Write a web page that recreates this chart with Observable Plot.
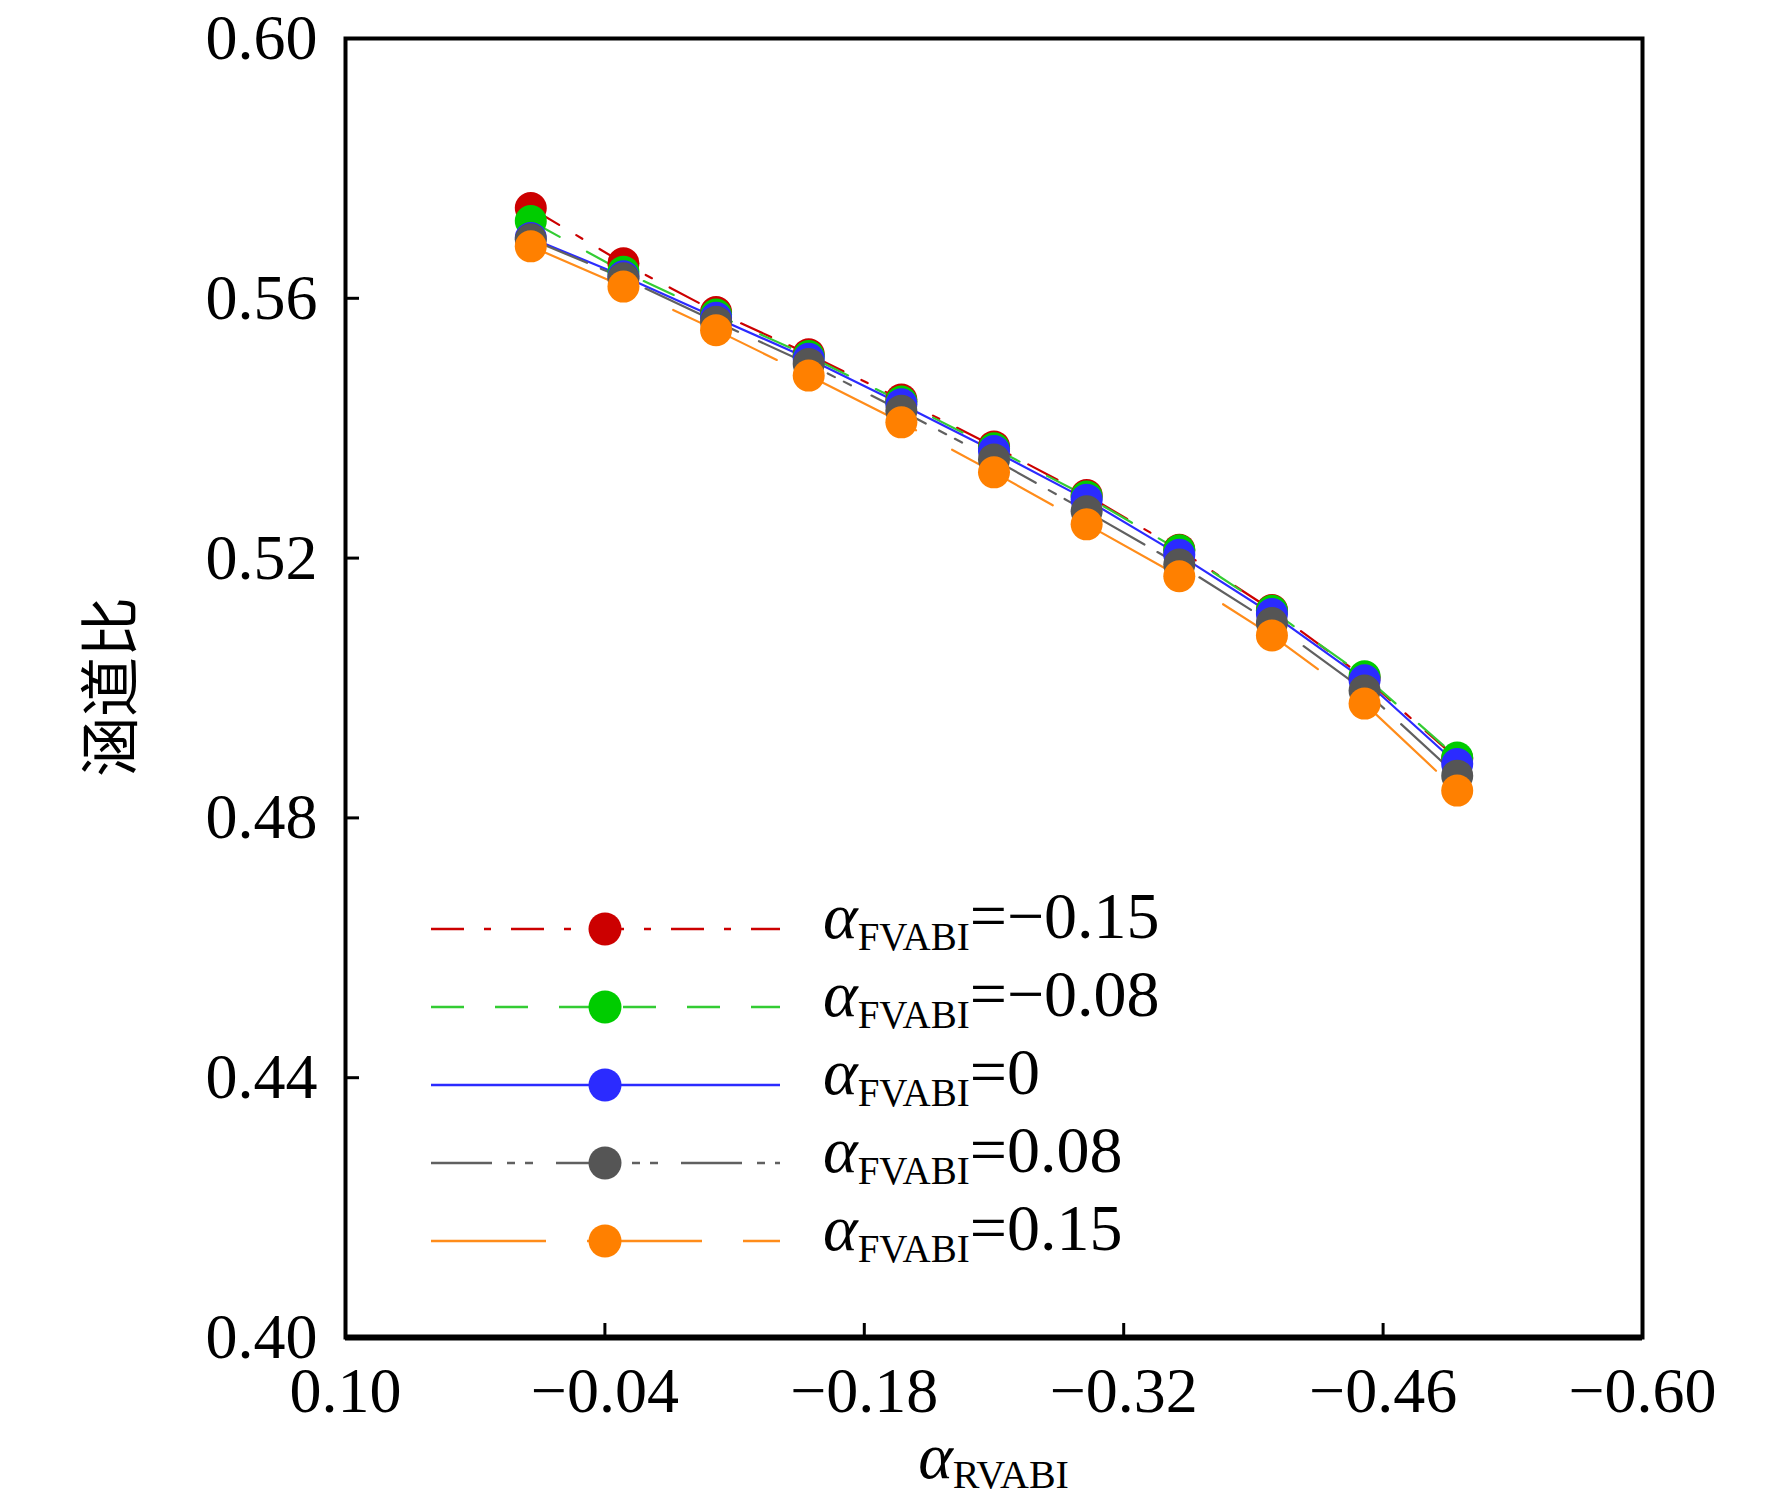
<!DOCTYPE html>
<html>
<head>
<meta charset="utf-8">
<script src="https://cdn.jsdelivr.net/npm/d3@7"></script>
<script src="https://cdn.jsdelivr.net/npm/@observablehq/plot@0.6"></script>
<style>
  html, body { margin: 0; padding: 0; background: #fff; }
  #chart { width: 1772px; height: 1499px; }
</style>
</head>
<body>
<div id="chart"></div>
<script>
// ---- data ----
const alphaRVABI = [0, -0.05, -0.10, -0.15, -0.20, -0.25, -0.30, -0.35, -0.40, -0.45, -0.50];
const seriesLabels = ["−0.15", "−0.08", "0", "0.08", "0.15"];
const ratioFm015 = [0.5739, 0.5654, 0.5579, 0.5514, 0.5444, 0.5372, 0.5297, 0.5213, 0.5120, 0.5016, 0.4891];
const ratioFm008 = [0.5719, 0.5641, 0.5575, 0.5511, 0.5441, 0.5369, 0.5295, 0.5212, 0.5119, 0.5018, 0.4893];
const ratioF0    = [0.5693, 0.5634, 0.5570, 0.5507, 0.5437, 0.5365, 0.5290, 0.5205, 0.5114, 0.5012, 0.4883];
const ratioFp008 = [0.5691, 0.5631, 0.5564, 0.5499, 0.5427, 0.5352, 0.5272, 0.5190, 0.5100, 0.4996, 0.4865];
const ratioFp015 = [0.5680, 0.5618, 0.5551, 0.5481, 0.5409, 0.5332, 0.5252, 0.5172, 0.5081, 0.4976, 0.4842];
const xTicks = [0.10, -0.04, -0.18, -0.32, -0.46, -0.60];
const yTicks = [0.40, 0.44, 0.48, 0.52, 0.56, 0.60];

// ---- styles ----
const styles = [
  {fill: "#cc0000", line: "#cc0000", dash: "33,20,7,20"},
  {fill: "#00cc00", line: "#33cc33", dash: "33,31"},
  {fill: "#2b2bff", line: "#2b2bff", dash: null},
  {fill: "#555555", line: "#606060", dash: "61,15,8,10,8,23"},
  {fill: "#ff8000", line: "#ff8c1a", dash: "115,41"}
];
const seriesValues = [ratioFm015, ratioFm008, ratioF0, ratioFp008, ratioFp015];
const series = seriesValues.map((vals, i) => alphaRVABI.map((x, j) => ({x, y: vals[j], s: seriesLabels[i]})));

const W = 1772, H = 1499;
const mL = 345, mR = 130, mT = 38, mB = 162;
const plotW = W - mL - mR, plotH = H - mT - mB;
const fmt = d3.format(".2f");

const marks = [];
series.forEach((d, i) => {
  marks.push(Plot.line(d, {x: "x", y: "y", stroke: styles[i].line, strokeWidth: 2.2,
    strokeDasharray: styles[i].dash}));
});
series.forEach((d, i) => {
  marks.push(Plot.dot(d, {x: "x", y: "y", r: 16, fill: styles[i].fill, stroke: "none"}));
});
marks.push(Plot.tickX(xTicks.slice(1, -1), {x: d => d, stroke: "black", strokeWidth: 3, insetTop: plotH - 14}));
marks.push(Plot.tickY(yTicks.slice(1, -1), {y: d => d, stroke: "black", strokeWidth: 3, insetRight: plotW - 14}));
marks.push(Plot.axisX({ticks: xTicks, tickSize: 0, tickPadding: 29, tickFormat: fmt, fontSize: 64, label: null}));
marks.push(Plot.axisY({ticks: yTicks, tickSize: 0, tickPadding: 28, tickFormat: fmt, fontSize: 64, label: null}));
marks.push(Plot.frame({stroke: "black", strokeWidth: 4}));
marks.push(Plot.ruleY([0.40], {stroke: "black", strokeWidth: 6}));

const chart = Plot.plot({
  width: W, height: H,
  marginLeft: mL, marginRight: mR, marginTop: mT, marginBottom: mB,
  style: {fontFamily: "'Liberation Serif', 'Times New Roman', serif", fontSize: "64px", color: "black", background: "white"},
  x: {domain: [0.10, -0.60], axis: null},
  y: {domain: [0.40, 0.60], axis: null},
  marks
});
document.getElementById("chart").appendChild(chart);

const svg = d3.select(chart);
// y label
svg.append("text")
  .attr("transform", "translate(105,687) rotate(-90)")
  .attr("text-anchor", "middle")
  .attr("dominant-baseline", "central")
  .attr("font-family", "'Noto Sans CJK SC', sans-serif")
  .attr("font-size", 60)
  .attr("fill", "black")
  .text("涵道比");

// x label
const xl = svg.append("text")
  .attr("x", mL + plotW / 2).attr("y", 1478)
  .attr("text-anchor", "middle")
  .attr("font-size", 66)
  .attr("fill", "black");
xl.append("tspan").attr("font-style", "italic").text("α");
xl.append("tspan").attr("font-size", 40).attr("dy", 10).text("RVABI");

// legend
const lg = svg.append("g").attr("text-anchor", "start");
styles.forEach((s, i) => {
  const y = 929 + i * 78;
  const ln = lg.append("line").attr("x1", 431).attr("x2", 780).attr("y1", y).attr("y2", y)
    .attr("stroke", s.line).attr("stroke-width", 2.5);
  if (s.dash) ln.attr("stroke-dasharray", s.dash);
  lg.append("circle").attr("cx", 605).attr("cy", y).attr("r", 16.5).attr("fill", s.fill);
  const t = lg.append("text").attr("x", 823).attr("y", y + 9).attr("font-size", 66)
    .attr("text-anchor", "start").attr("fill", "black");
  t.append("tspan").attr("font-style", "italic").text("α");
  t.append("tspan").attr("font-size", 39).attr("dy", 12).text("FVABI");
  t.append("tspan").attr("dy", -12).text("=" + seriesLabels[i]);
});
</script>
</body>
</html>
